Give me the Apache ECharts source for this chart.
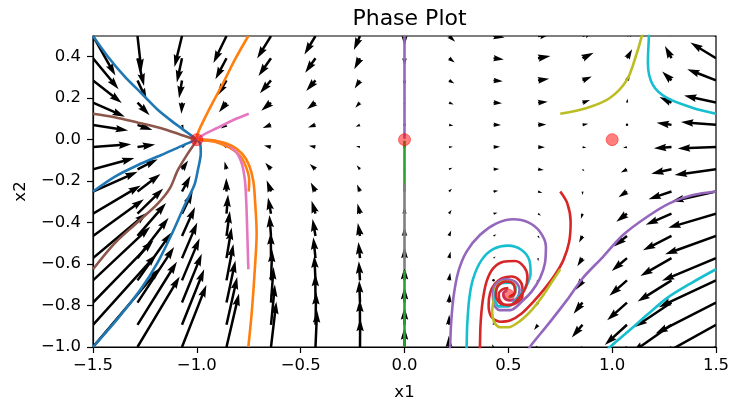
<!DOCTYPE html>
<html>
<head>
<meta charset="utf-8">
<script src="https://cdn.jsdelivr.net/npm/echarts@6/dist/echarts.min.js"></script>
<style>
  html, body { margin: 0; padding: 0; background: #fff; }
  #chart { width: 732px; height: 403px; }
</style>
</head>
<body>
<div id="chart"></div>
<script>
// quiver grid
var gridX = [-1.5, -1.2857, -1.0714, -0.8571, -0.6429, -0.4286, -0.2143, 0, 0.2143, 0.4286, 0.6429, 0.8571, 1.0714, 1.2857, 1.5];
var gridY = [-1, -0.8929, -0.7857, -0.6786, -0.5714, -0.4643, -0.3571, -0.25, -0.1429, -0.0357, 0.0714, 0.1786, 0.2857, 0.3929, 0.5];

// arrow components, one list per column (bottom row first)
var uCols = [
  [3.38, 3.21, 3.05, 2.89, 2.73, 2.57, 2.41, 2.25, 2.09, 1.93, 1.77, 1.61, 1.45, 1.29, 1.13],
  [2.13, 1.99, 1.85, 1.71, 1.57, 1.44, 1.30, 1.16, 1.02, 0.89, 0.75, 0.61, 0.47, 0.33, 0.20],
  [1.23, 1.12, 1.00, 0.89, 0.77, 0.66, 0.54, 0.43, 0.31, 0.20, 0.08, -0.03, -0.15, -0.26, -0.38],
  [0.63, 0.54, 0.45, 0.35, 0.26, 0.17, 0.08, -0.01, -0.10, -0.20, -0.29, -0.38, -0.47, -0.56, -0.66],
  [0.27, 0.20, 0.13, 0.06, -0.01, -0.08, -0.15, -0.22, -0.29, -0.35, -0.42, -0.49, -0.56, -0.63, -0.70],
  [0.08, 0.03, -0.01, -0.06, -0.11, -0.15, -0.20, -0.24, -0.29, -0.33, -0.38, -0.43, -0.47, -0.52, -0.56],
  [0.01, -0.01, -0.04, -0.06, -0.08, -0.11, -0.13, -0.15, -0.17, -0.20, -0.22, -0.24, -0.27, -0.29, -0.31],
  [0, 0, 0, 0, 0, 0, 0, 0, 0, 0, 0, 0, 0, 0, 0],
  [-0.01, 0.01, 0.04, 0.06, 0.08, 0.11, 0.13, 0.15, 0.17, 0.20, 0.22, 0.24, 0.27, 0.29, 0.31],
  [-0.08, -0.03, 0.01, 0.06, 0.11, 0.15, 0.20, 0.24, 0.29, 0.33, 0.38, 0.43, 0.47, 0.52, 0.56],
  [-0.27, -0.20, -0.13, -0.06, 0.01, 0.08, 0.15, 0.22, 0.29, 0.35, 0.42, 0.49, 0.56, 0.63, 0.70],
  [-0.63, -0.54, -0.45, -0.35, -0.26, -0.17, -0.08, 0.01, 0.10, 0.20, 0.29, 0.38, 0.47, 0.56, 0.66],
  [-1.23, -1.12, -1.00, -0.89, -0.77, -0.66, -0.54, -0.43, -0.31, -0.20, -0.08, 0.03, 0.15, 0.26, 0.38],
  [-2.13, -1.99, -1.85, -1.71, -1.57, -1.44, -1.30, -1.16, -1.02, -0.89, -0.75, -0.61, -0.47, -0.33, -0.20],
  [-3.38, -3.21, -3.05, -2.89, -2.73, -2.57, -2.41, -2.25, -2.09, -1.93, -1.77, -1.61, -1.45, -1.29, -1.13]
];
var vCols = [
  [4.00, 3.57, 3.14, 2.71, 2.29, 1.86, 1.43, 1.00, 0.57, 0.14, -0.29, -0.71, -1.14, -1.57, -2.00],
  [3.57, 3.19, 2.81, 2.42, 2.04, 1.66, 1.28, 0.89, 0.51, 0.13, -0.26, -0.64, -1.02, -1.40, -1.79],
  [3.14, 2.81, 2.47, 2.13, 1.80, 1.46, 1.12, 0.79, 0.45, 0.11, -0.22, -0.56, -0.90, -1.23, -1.57],
  [2.71, 2.42, 2.13, 1.84, 1.55, 1.26, 0.97, 0.68, 0.39, 0.10, -0.19, -0.49, -0.78, -1.07, -1.36],
  [2.29, 2.04, 1.80, 1.55, 1.31, 1.06, 0.82, 0.57, 0.33, 0.08, -0.16, -0.41, -0.65, -0.90, -1.14],
  [1.86, 1.66, 1.46, 1.26, 1.06, 0.86, 0.66, 0.46, 0.27, 0.07, -0.13, -0.33, -0.53, -0.73, -0.93],
  [1.43, 1.28, 1.12, 0.97, 0.82, 0.66, 0.51, 0.36, 0.20, 0.05, -0.10, -0.26, -0.41, -0.56, -0.71],
  [1.00, 0.89, 0.79, 0.68, 0.57, 0.46, 0.36, 0.25, 0.14, 0.04, -0.07, -0.18, -0.29, -0.39, -0.50],
  [0.57, 0.51, 0.45, 0.39, 0.33, 0.27, 0.20, 0.14, 0.08, 0.02, -0.04, -0.10, -0.16, -0.22, -0.29],
  [0.14, 0.13, 0.11, 0.10, 0.08, 0.07, 0.05, 0.04, 0.02, 0.01, -0.01, -0.03, -0.04, -0.06, -0.07],
  [-0.29, -0.26, -0.22, -0.19, -0.16, -0.13, -0.10, -0.07, -0.04, -0.01, 0.02, 0.05, 0.08, 0.11, 0.14],
  [-0.71, -0.64, -0.56, -0.49, -0.41, -0.33, -0.26, -0.18, -0.10, -0.03, 0.05, 0.13, 0.20, 0.28, 0.36],
  [-1.14, -1.02, -0.90, -0.78, -0.65, -0.53, -0.41, -0.29, -0.16, -0.04, 0.08, 0.20, 0.33, 0.45, 0.57],
  [-1.57, -1.40, -1.23, -1.07, -0.90, -0.73, -0.56, -0.39, -0.22, -0.06, 0.11, 0.28, 0.45, 0.62, 0.79],
  [-2.00, -1.79, -1.57, -1.36, -1.14, -0.93, -0.71, -0.50, -0.29, -0.07, 0.14, 0.36, 0.57, 0.79, 1.00]
];

// trajectories
var trajBlue1 = [[-1.5, 0.5], [-1.428, 0.4], [-1.347, 0.304], [-1.267, 0.224], [-1.187, 0.143], [-1.107, 0.079], [-1.043, 0.032], [-1, 0]];
var trajOrange1 = [[-0.752, 0.5], [-0.818, 0.384], [-0.874, 0.272], [-0.93, 0.167], [-0.97, 0.087], [-0.998, 0.023], [-1, 0]];
var trajBrown1 = [[-1.5, 0.125], [-1.396, 0.108], [-1.283, 0.082], [-1.171, 0.055], [-1.075, 0.023], [-1, 0]];
var trajPink1 = [[-0.75, 0.125], [-0.824, 0.095], [-0.905, 0.055], [-0.969, 0.023], [-1, 0]];
var trajOliveTop = [[0.75, 0.125], [0.878, 0.153], [0.989, 0.201], [1.071, 0.288], [1.119, 0.418], [1.143, 0.5], [1.148, 0.52]];
var trajCyanTop = [[1.5, 0.125], [1.389, 0.153], [1.264, 0.201], [1.196, 0.264], [1.172, 0.37], [1.177, 0.5], [1.178, 0.52]];
var trajBlue2 = [[-1.5, -0.25], [-1.396, -0.179], [-1.283, -0.122], [-1.171, -0.074], [-1.075, -0.031], [-1, 0]];
var trajOrange2 = [[-0.75, -0.25], [-0.748, -0.195], [-0.762, -0.135], [-0.79, -0.08], [-0.84, -0.04], [-0.914, -0.01], [-1, 0]];
var trajGreen1 = [[0, -0.25], [0, -0.005]];
var trajRed1 = [[0.75, -0.25], [0.784, -0.307], [0.8, -0.396], [0.793, -0.492], [0.765, -0.581], [0.724, -0.653], [0.676, -0.717],
  [0.62, -0.782], [0.564, -0.838], [0.508, -0.872], [0.46, -0.878], [0.419, -0.855], [0.405, -0.8], [0.412, -0.74], [0.435, -0.695],
  [0.47, -0.668], [0.515, -0.66], [0.553, -0.678], [0.568, -0.715], [0.567, -0.76], [0.53, -0.792], [0.488, -0.798], [0.459, -0.776],
  [0.454, -0.744], [0.474, -0.721], [0.5, -0.716]];
var trajPurpleA = [[1.5, -0.25], [1.389, -0.267], [1.278, -0.306], [1.167, -0.373], [1.052, -0.46], [0.955, -0.566], [0.859, -0.667],
  [0.782, -0.774], [0.7, -0.88], [0.618, -0.981], [0.604, -1], [0.59, -1.02]];
var trajPurpleB = [[0.214, -1.02], [0.219, -1], [0.224, -0.894], [0.235, -0.766], [0.259, -0.637], [0.299, -0.54], [0.363, -0.46],
  [0.443, -0.404], [0.524, -0.384], [0.596, -0.399], [0.652, -0.444], [0.681, -0.516], [0.676, -0.597], [0.652, -0.669], [0.612, -0.733],
  [0.564, -0.782], [0.51, -0.822], [0.458, -0.822], [0.428, -0.786], [0.426, -0.732], [0.446, -0.69], [0.488, -0.673], [0.534, -0.686],
  [0.554, -0.724], [0.542, -0.764], [0.51, -0.776], [0.483, -0.764], [0.476, -0.74], [0.494, -0.728]];
var trajBrown2 = [[-1.5, -0.625], [-1.396, -0.5], [-1.283, -0.396], [-1.187, -0.307], [-1.13, -0.235], [-1.091, -0.146], [-1.043, -0.066], [-1.01, -0.018], [-1, 0]];
var trajPink2 = [[-0.752, -0.625], [-0.757, -0.45], [-0.762, -0.3], [-0.768, -0.2], [-0.782, -0.12], [-0.81, -0.06], [-0.86, -0.02], [-0.93, -0.003], [-1, 0]];
var trajGray = [[0, -0.625], [0, -0.21]];
var trajOlive = [[0.75, -0.625], [0.716, -0.677], [0.668, -0.75], [0.612, -0.822], [0.556, -0.875], [0.5, -0.905], [0.46, -0.905],
  [0.432, -0.88], [0.422, -0.83], [0.43, -0.77], [0.44, -0.714], [0.476, -0.684], [0.518, -0.69], [0.536, -0.72], [0.524, -0.752], [0.5, -0.76]];
var trajCyanA = [[1.5, -0.625], [1.389, -0.687], [1.264, -0.764], [1.167, -0.846], [1.085, -0.918], [0.989, -1], [0.97, -1.02]];
var trajCyanB = [[0.297, -1.02], [0.299, -1], [0.302, -0.894], [0.312, -0.765], [0.331, -0.669], [0.371, -0.581], [0.427, -0.528],
  [0.5, -0.511], [0.564, -0.532], [0.601, -0.581], [0.607, -0.645], [0.585, -0.709], [0.548, -0.76], [0.5, -0.804], [0.454, -0.804],
  [0.436, -0.768], [0.442, -0.72], [0.47, -0.692], [0.51, -0.69], [0.534, -0.714], [0.529, -0.748], [0.504, -0.76]];
var trajBlue3 = [[-1.5, -1], [-1.38, -0.862], [-1.267, -0.717], [-1.187, -0.589], [-1.123, -0.46], [-1.058, -0.315], [-1.012, -0.219],
  [-0.995, -0.146], [-0.981, -0.066], [-0.984, -0.018], [-1, 0]];
var trajOrange3 = [[-0.752, -1], [-0.736, -0.838], [-0.72, -0.613], [-0.712, -0.452], [-0.72, -0.29], [-0.728, -0.2], [-0.748, -0.125],
  [-0.78, -0.07], [-0.83, -0.03], [-0.905, -0.006], [-1, 0]];
var trajGreen2 = [[0, -1], [0, -0.63]];
var trajRed2 = [[0.36, -1.02], [0.363, -1], [0.366, -0.894], [0.376, -0.782], [0.395, -0.685], [0.427, -0.621], [0.476, -0.589],
  [0.532, -0.585], [0.575, -0.613], [0.592, -0.661], [0.582, -0.717], [0.55, -0.765], [0.51, -0.798], [0.464, -0.792], [0.44, -0.752],
  [0.45, -0.704], [0.488, -0.684], [0.524, -0.697], [0.532, -0.736], [0.506, -0.756]];
var trajPurpleAxis = [[0, 0.5], [0, 0.005]];

// equilibrium points
var eqX = [-1, 0, 1, 0.5];
var eqY = [0, 0, 0, -0.75];

var xTicks = [-1.5, -1.0, -0.5, 0.0, 0.5, 1.0, 1.5];
var yTicks = [-1.0, -0.8, -0.6, -0.4, -0.2, 0.0, 0.2, 0.4];

var C = {
  blue: '#1f77b4', orange: '#ff7f0e', green: '#2ca02c', red: '#d62728', purple: '#9467bd',
  brown: '#8c564b', pink: '#e377c2', gray: '#7f7f7f', olive: '#bcbd22', cyan: '#17becf'
};

var trajectories = [
  [trajBlue1, C.blue], [trajOrange1, C.orange], [trajBrown1, C.brown], [trajPink1, C.pink],
  [trajOliveTop, C.olive], [trajCyanTop, C.cyan], [trajBlue2, C.blue], [trajOrange2, C.orange],
  [trajGreen1, C.green], [trajRed1, C.red], [trajPurpleA, C.purple], [trajPurpleB, C.purple],
  [trajBrown2, C.brown], [trajPink2, C.pink], [trajGray, C.gray], [trajOlive, C.olive],
  [trajCyanA, C.cyan], [trajCyanB, C.cyan], [trajBlue3, C.blue], [trajOrange3, C.orange],
  [trajGreen2, C.green], [trajRed2, C.red], [trajPurpleAxis, C.purple]
];

var QUIVER_SCALE = 0.0954; // data units per field unit
var SHAFT = 2.5;           // px
var HEAD_W = 3, HEAD_L = 5, HEAD_AL = 4.5; // in shaft widths, like matplotlib

function fmt(v) {
  var s = Math.abs(v).toFixed(1);
  return v < -1e-9 ? '\u2212' + s : s;
}

function arrowItem(params, api) {
  var x = api.value(0), y = api.value(1);
  var p0 = api.coord([x, y]);
  var p1 = api.coord([x + api.value(2) * QUIVER_SCALE, y + api.value(3) * QUIVER_SCALE]);
  var dx = p1[0] - p0[0], dy = p1[1] - p0[1];
  var len = Math.sqrt(dx * dx + dy * dy);
  if (len < SHAFT) {
    return { type: 'circle', shape: { cx: p0[0], cy: p0[1], r: SHAFT / 2 }, style: { fill: '#000' } };
  }
  var hl = HEAD_L * SHAFT, hal = HEAD_AL * SHAFT, hw = HEAD_W * SHAFT / 2, sw = SHAFT / 2;
  var L = Math.max(len, hl), k = len / L;
  var local = [[0, -sw], [L - hal, -sw], [L - hl, -hw], [L, 0], [L - hl, hw], [L - hal, sw], [0, sw]];
  var c = dx / len, s = dy / len;
  var pts = local.map(function (q) {
    var a = q[0] * k, b = q[1] * k;
    return [p0[0] + a * c - b * s, p0[1] + a * s + b * c];
  });
  return { type: 'polygon', shape: { points: pts }, style: { fill: '#000' } };
}

var arrowData = [];
gridX.forEach(function (x, i) {
  gridY.forEach(function (y, j) {
    arrowData.push([x, y, uCols[i][j], vCols[i][j]]);
  });
});

var series = [{
  type: 'custom',
  coordinateSystem: 'cartesian2d',
  renderItem: arrowItem,
  data: arrowData,
  clip: true,
  silent: true,
  z: 1
}];

trajectories.forEach(function (t, n) {
  series.push({
    type: 'line',
    data: t[0],
    showSymbol: false,
    smooth: 0.3,
    clip: true,
    lineStyle: { color: t[1], width: 2.6 },
    z: 2 + n * 0.01,
    silent: true
  });
});

series.push({
  type: 'scatter',
  data: eqX.map(function (x, i) { return [x, eqY[i]]; }),
  symbolSize: 12,
  itemStyle: { color: 'rgba(255,0,0,0.5)', borderColor: 'rgba(255,0,0,0.5)', borderWidth: 1, opacity: 1 },
  z: 5,
  silent: true
});

var chart = echarts.init(document.getElementById('chart'), null, { renderer: 'canvas' });
chart.setOption({
  animation: false,
  textStyle: { fontFamily: 'DejaVu Sans' },
  title: {
    text: 'Phase Plot',
    left: 404.5,
    textAlign: 'center',
    top: 3,
    textStyle: { fontFamily: 'DejaVu Sans', fontSize: 22, fontWeight: 'normal', color: '#000' }
  },
  grid: {
    left: 93, right: 16, top: 36, bottom: 56,
    outerBoundsMode: 'none',
    show: true, borderColor: '#000', borderWidth: 1.2, backgroundColor: 'transparent'
  },
  xAxis: {
    type: 'value', min: -1.5, max: 1.5,
    name: 'x1', nameLocation: 'middle', nameGap: 37,
    nameTextStyle: { fontFamily: 'DejaVu Sans', fontSize: 16.5, color: '#000' },
    axisLine: { show: true, onZero: false, lineStyle: { color: '#000', width: 1.2 } },
    axisTick: { show: true, inside: false, length: 6, customValues: xTicks, lineStyle: { color: '#000', width: 1.2 } },
    axisLabel: { customValues: xTicks, formatter: fmt, margin: 10, fontSize: 16.5, color: '#000', fontFamily: 'DejaVu Sans' },
    splitLine: { show: false }
  },
  yAxis: {
    type: 'value', min: -1.0, max: 0.5,
    name: 'x2', nameLocation: 'middle', nameGap: 64,
    nameTextStyle: { fontFamily: 'DejaVu Sans', fontSize: 16.5, color: '#000' },
    axisLine: { show: true, onZero: false, lineStyle: { color: '#000', width: 1.2 } },
    axisTick: { show: true, inside: false, length: 6, customValues: yTicks, lineStyle: { color: '#000', width: 1.2 } },
    axisLabel: { customValues: yTicks, formatter: fmt, margin: 12, fontSize: 16.5, color: '#000', fontFamily: 'DejaVu Sans' },
    splitLine: { show: false }
  },
  series: series
});
</script>
</body>
</html>
